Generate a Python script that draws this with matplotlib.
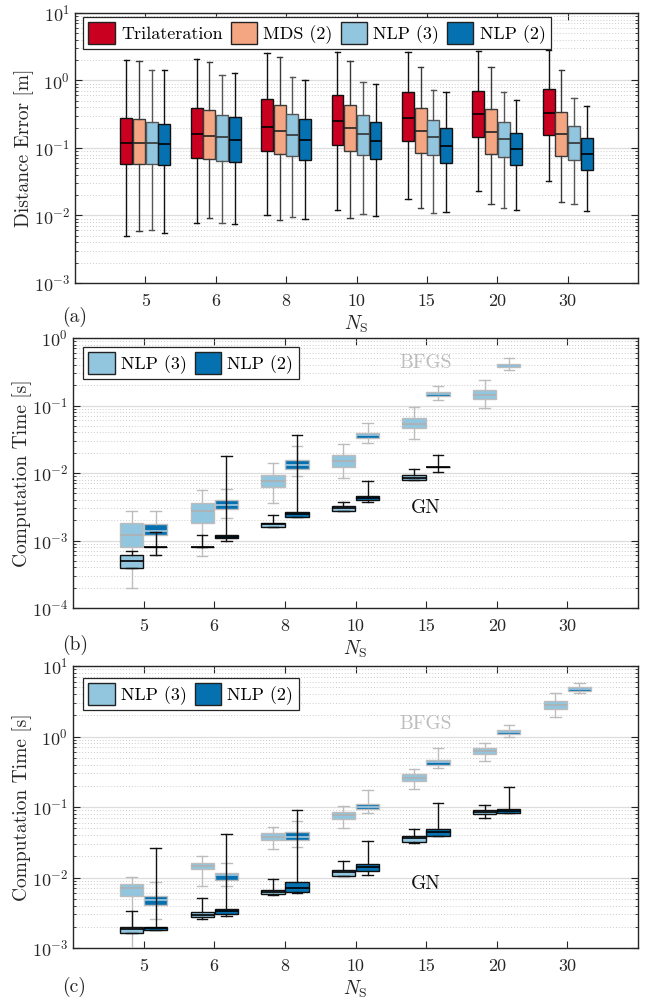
import matplotlib
matplotlib.use("Agg")
import matplotlib.pyplot as plt
from matplotlib.patches import Patch
from matplotlib.ticker import LogLocator, NullFormatter

plt.rcParams['font.family'] = ['cmr10', 'DejaVu Serif']
plt.rcParams['mathtext.fontset'] = 'cm'
plt.rcParams['axes.formatter.use_mathtext'] = True
plt.rcParams['axes.unicode_minus'] = False

# ---------------- data ----------------
N_LABELS = ['5', '6', '8', '10', '15', '20', '30']
SERIES_A = ['Trilateration', 'MDS (2)', 'NLP (3)', 'NLP (2)']
SERIES_BC = ['NLP (3)', 'NLP (2)']

# each row: [whisker low, q1, median, q3, whisker high]
TRI = [[0.0049, 0.058, 0.12, 0.274, 2.02],
       [0.0077, 0.071, 0.159, 0.394, 2.09],
       [0.010, 0.091, 0.207, 0.53, 2.59],
       [0.0121, 0.109, 0.248, 0.614, 2.62],
       [0.0176, 0.128, 0.281, 0.673, 2.65],
       [0.0232, 0.144, 0.315, 0.703, 2.77],
       [0.0322, 0.156, 0.333, 0.753, 2.8]]
MDS = [[0.0059, 0.057, 0.12, 0.271, 1.95],
       [0.0093, 0.0695, 0.152, 0.369, 1.91],
       [0.0086, 0.0815, 0.18, 0.437, 2.21],
       [0.0093, 0.091, 0.195, 0.437, 1.95],
       [0.0128, 0.0853, 0.18, 0.39, 1.61],
       [0.0146, 0.0824, 0.174, 0.373, 1.57],
       [0.0157, 0.077, 0.161, 0.34, 1.44]]
ERR_NLP3 = [[0.006, 0.057, 0.117, 0.24, 1.44],
            [0.0077, 0.064, 0.144, 0.311, 1.21],
            [0.0094, 0.077, 0.156, 0.315, 1.12],
            [0.0107, 0.0797, 0.159, 0.311, 0.966],
            [0.0109, 0.078, 0.145, 0.262, 0.728],
            [0.0131, 0.0736, 0.137, 0.245, 0.665],
            [0.015, 0.0665, 0.12, 0.209, 0.548]]
ERR_NLP2 = [[0.0055, 0.056, 0.113, 0.229, 1.42],
            [0.0074, 0.061, 0.131, 0.284, 1.27],
            [0.0088, 0.067, 0.131, 0.268, 1.0],
            [0.0097, 0.0688, 0.128, 0.245, 0.883],
            [0.0112, 0.0607, 0.108, 0.198, 0.665],
            [0.0119, 0.0561, 0.0978, 0.169, 0.506],
            [0.0116, 0.0478, 0.0815, 0.139, 0.422]]

# panel (b): computation time
B_BFGS3 = [[1.98e-4, 7.96e-4, 1.2e-3, 1.8e-3, 2.78e-3],
           [5.8e-4, 1.8e-3, 2.78e-3, 3.6e-3, 5.6e-3],
           [3.6e-3, 6.2e-3, 7.6e-3, 9.3e-3, 0.0141],
           [8.5e-3, 0.0123, 0.0151, 0.0185, 0.0266],
           [0.0323, 0.0459, 0.0532, 0.0653, 0.094],
           [0.0918, 0.123, 0.145, 0.17, 0.236],
           None]
B_BFGS2 = [[6.0e-4, 1.19e-3, 1.37e-3, 1.78e-3, 2.77e-3],
           [2.16e-3, 2.97e-3, 3.4e-3, 3.98e-3, 5.7e-3],
           [8.9e-3, 0.0116, 0.0131, 0.0154, 0.0254],
           [0.0275, 0.033, 0.0361, 0.0392, 0.0544],
           [0.122, 0.137, 0.146, 0.158, 0.194],
           [0.332, 0.367, 0.389, 0.412, 0.5],
           None]
B_GN3 = [[3.96e-4, 3.96e-4, 5.05e-4, 6.0e-4, 7.1e-4],
         [7.9e-4, 7.9e-4, 7.9e-4, 7.9e-4, 1.19e-3],
         [1.58e-3, 1.58e-3, 1.74e-3, 1.82e-3, 2.39e-3],
         [2.77e-3, 2.77e-3, 3.0e-3, 3.2e-3, 3.76e-3],
         [7.8e-3, 7.8e-3, 8.5e-3, 9.2e-3, 0.0116],
         None,
         None]
B_GN2 = [[6.0e-4, 7.9e-4, 7.9e-4, 7.9e-4, 1.32e-3],
         [1.0e-3, 1.08e-3, 1.14e-3, 1.21e-3, 0.0181],
         [2.2e-3, 2.2e-3, 2.45e-3, 2.61e-3, 0.0361],
         [3.76e-3, 3.98e-3, 4.2e-3, 4.56e-3, 7.7e-3],
         [0.0103, 0.0121, 0.0121, 0.0121, 0.0187],
         None,
         None]

# panel (c): computation time
C_BFGS3 = [[1.0e-3, 5.5e-3, 7.07e-3, 8.05e-3, 0.0101],
           [7.7e-3, 0.013, 0.0146, 0.016, 0.020],
           [0.0255, 0.0337, 0.038, 0.0424, 0.0527],
           [0.0499, 0.0676, 0.0762, 0.084, 0.103],
           [0.18, 0.231, 0.26, 0.29, 0.348],
           [0.443, 0.562, 0.633, 0.698, 0.813],
           [1.9, 2.44, 2.84, 3.2, 4.2]]
C_BFGS2 = [[2.6e-3, 4.1e-3, 4.73e-3, 5.38e-3, 8.5e-3],
           [7.5e-3, 9.3e-3, 0.0107, 0.0116, 0.0163],
           [0.0272, 0.0341, 0.038, 0.0438, 0.064],
           [0.0813, 0.0937, 0.101, 0.11, 0.176],
           [0.356, 0.397, 0.428, 0.467, 0.698],
           [0.99, 1.07, 1.15, 1.23, 1.46],
           [4.15, 4.48, 4.78, 5.05, 5.81]]
C_GN3 = [[1.63e-3, 1.63e-3, 1.86e-3, 2.0e-3, 3.3e-3],
         [2.6e-3, 2.78e-3, 2.96e-3, 3.23e-3, 5.2e-3],
         [5.7e-3, 5.8e-3, 6.2e-3, 6.6e-3, 9.5e-3],
         [0.0104, 0.0104, 0.0118, 0.0128, 0.0174],
         [0.031, 0.0316, 0.036, 0.0393, 0.0493],
         [0.069, 0.0787, 0.084, 0.0897, 0.108],
         None]
C_GN2 = [[1.8e-3, 1.8e-3, 1.9e-3, 2.0e-3, 0.026],
         [2.85e-3, 3.03e-3, 3.3e-3, 3.6e-3, 0.042],
         [6.1e-3, 6.2e-3, 7.06e-3, 8.77e-3, 0.0897],
         [0.0109, 0.0124, 0.014, 0.0153, 0.033],
         [0.0385, 0.0385, 0.044, 0.0483, 0.113],
         [0.0813, 0.0813, 0.088, 0.0927, 0.19],
         None]

# ---------------- style ----------------
RED, SALMON, LIGHT, DARK = '#ca0020', '#f4a582', '#92c5de', '#0571b0'
GRAY = '#bdbdbd'
INK = '#262626'
FS = 13

fig = plt.figure(figsize=(6.52, 10), dpi=100)
W, H = 652.0, 1000.0


def make_axes(left, right, top, bottom):
    return fig.add_axes([left / W, 1 - bottom / H, (right - left) / W, (bottom - top) / H])


def style_axes(ax, ylim):
    ax.set_yscale('log')
    ax.set_ylim(*ylim)
    ax.set_xlim(0, 8)
    ax.set_xticks(range(1, len(N_LABELS) + 1))
    ax.set_xticklabels(N_LABELS)
    ax.yaxis.set_major_locator(LogLocator(base=10, numticks=20))
    ax.yaxis.set_minor_locator(LogLocator(base=10, subs=range(2, 10), numticks=20))
    ax.yaxis.set_minor_formatter(NullFormatter())
    ax.yaxis.grid(True, which='major', color='#dddddd', lw=0.9, ls='-')
    ax.yaxis.grid(True, which='minor', color='#cccccc', lw=0.7, ls=(0, (1, 2)))
    ax.set_axisbelow(True)
    ax.tick_params(which='both', direction='in', top=True, right=True,
                   labelsize=FS, color=INK, labelcolor=INK)
    ax.tick_params(which='major', length=5, width=0.8)
    ax.tick_params(which='minor', length=2.5, width=0.6)
    ax.tick_params(axis='x', which='minor', bottom=False, top=False)
    ax.tick_params(axis='x', pad=8)
    for s in ax.spines.values():
        s.set_color(INK)
        s.set_linewidth(1.0)


def draw(ax, rows, offset, width, face, edge, med, whisk, lw=1.0, zorder=3, medlw=1.2):
    stats, pos = [], []
    for i, r in enumerate(rows):
        if r is None:
            continue
        stats.append(dict(whislo=r[0], q1=r[1], med=r[2], q3=r[3], whishi=r[4], fliers=[]))
        pos.append(i + 1 + offset)
    ax.bxp(stats, positions=pos, widths=width, patch_artist=True, showfliers=False,
           capwidths=width * 0.45, manage_ticks=False, zorder=zorder,
           boxprops=dict(facecolor=face, edgecolor=edge, linewidth=lw),
           medianprops=dict(color=med, linewidth=medlw),
           whiskerprops=dict(color=whisk, linewidth=lw),
           capprops=dict(color=whisk, linewidth=lw))


def legend(ax, labels, faces, edges, anchor):
    handles = [Patch(facecolor=f, edgecolor=e, linewidth=1.0) for f, e in zip(faces, edges)]
    lg = ax.legend(handles, labels, loc='upper left', bbox_to_anchor=anchor, ncol=len(labels),
                   fontsize=FS, handlelength=1.45, handleheight=1.45, handletextpad=0.35,
                   columnspacing=0.45, borderpad=0.3, borderaxespad=0.0, fancybox=False,
                   framealpha=1.0, edgecolor=INK)
    lg.get_frame().set_linewidth(0.9)
    lg.set_zorder(10)


def labels(ax, ylabel):
    ax.set_ylabel(ylabel, fontsize=FS + 1, labelpad=0, color=INK)
    ax.set_xlabel(r'$N_\mathrm{S}$', fontsize=FS + 1, labelpad=3, color=INK)


# ---------------- panel (a) ----------------
axa = make_axes(75, 638, 13, 283)
style_axes(axa, (1e-3, 1e1))
wa = 0.17
draw(axa, TRI, -0.27, wa, RED, '#111111', '#000000', '#111111')
draw(axa, MDS, -0.09, wa, SALMON, '#3a3a3a', '#222222', '#3a3a3a')
draw(axa, ERR_NLP3, 0.09, wa, LIGHT, '#555555', '#333333', '#555555')
draw(axa, ERR_NLP2, 0.27, wa, DARK, '#111111', '#000000', '#111111')
labels(axa, 'Distance Error [m]')
legend(axa, SERIES_A, [RED, SALMON, LIGHT, DARK], ['#222222'] * 4,
       ((83 - 75) / 563.0, 1 - (17 - 13) / 270.0))
fig.text(62 / W, 1 - 317 / H, '(a)', fontsize=FS + 1, va='center', ha='left', color=INK)

# ---------------- panel (b) ----------------
wb = 0.33
axb = make_axes(73, 638, 338, 608)
style_axes(axb, (1e-4, 1e0))
draw(axb, B_BFGS3, -0.17, wb, LIGHT, GRAY, '#b0b0b0', GRAY, zorder=3)
draw(axb, B_BFGS2, 0.17, wb, DARK, GRAY, '#a9c9dc', GRAY, zorder=3)
draw(axb, B_GN3, -0.17, wb, LIGHT, '#111111', '#000000', '#111111', zorder=4)
draw(axb, B_GN2, 0.17, wb, DARK, '#111111', '#000000', '#111111', zorder=4)
labels(axb, 'Computation Time [s]')
legend(axb, SERIES_BC, [LIGHT, DARK], ['#222222'] * 2,
       ((83 - 73) / 565.0, 1 - (347 - 338) / 270.0))
axb.text(5, 0.43, 'BFGS', color=GRAY, fontsize=FS + 1, ha='center', va='center')
axb.text(5, 3.0e-3, 'GN', color='#111111', fontsize=FS + 1, ha='center', va='center')
fig.text(62 / W, 1 - 645 / H, '(b)', fontsize=FS + 1, va='center', ha='left', color=INK)

# ---------------- panel (c) ----------------
axc = make_axes(73, 638, 666, 948)
style_axes(axc, (1e-3, 1e1))
draw(axc, C_BFGS3, -0.17, wb, LIGHT, GRAY, '#b0b0b0', GRAY, zorder=3)
draw(axc, C_BFGS2, 0.17, wb, DARK, GRAY, '#a9c9dc', GRAY, zorder=3)
draw(axc, C_GN3, -0.17, wb, LIGHT, '#111111', '#000000', '#111111', zorder=4)
draw(axc, C_GN2, 0.17, wb, DARK, '#111111', '#000000', '#111111', zorder=4)
labels(axc, 'Computation Time [s]')
legend(axc, SERIES_BC, [LIGHT, DARK], ['#222222'] * 2,
       ((83 - 73) / 565.0, 1 - (678 - 666) / 282.0))
axc.text(5, 1.5, 'BFGS', color=GRAY, fontsize=FS + 1, ha='center', va='center')
axc.text(5, 8.1e-3, 'GN', color='#111111', fontsize=FS + 1, ha='center', va='center')
fig.text(62 / W, 1 - 987 / H, '(c)', fontsize=FS + 1, va='center', ha='left', color=INK)

fig.savefig('out.png', dpi=100)
